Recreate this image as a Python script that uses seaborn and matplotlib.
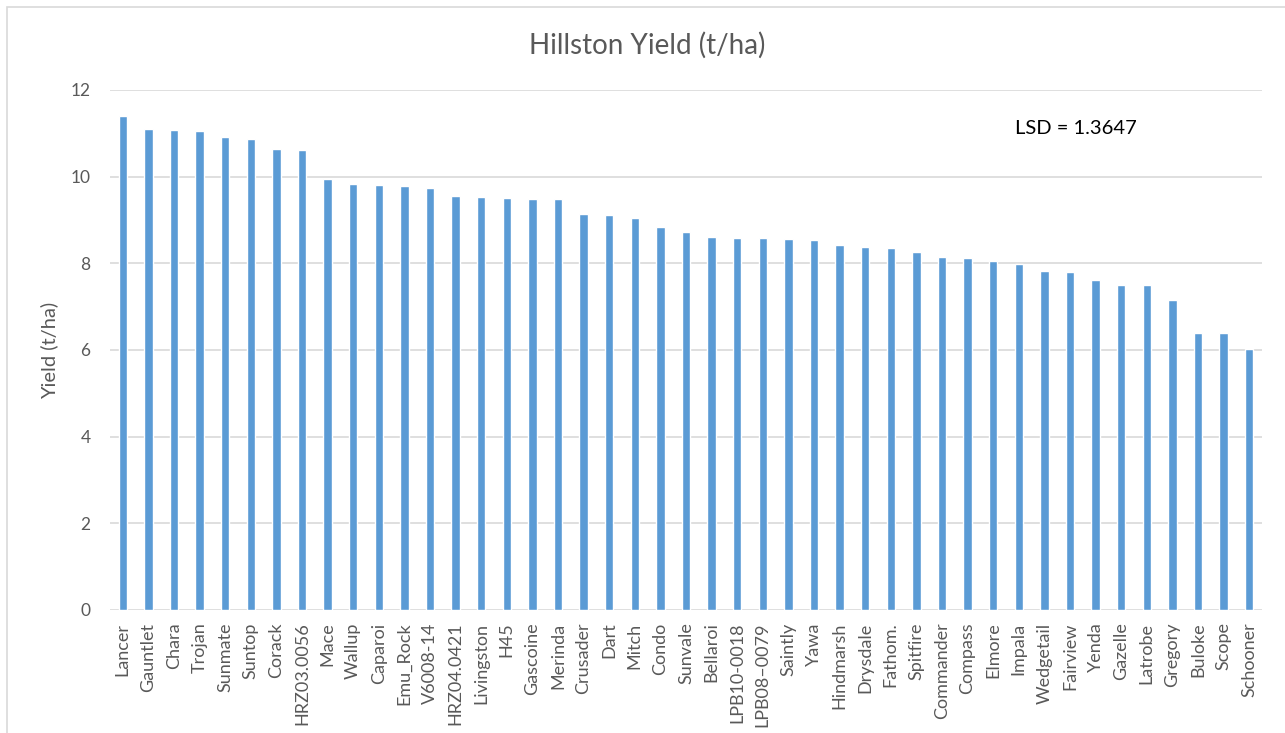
import matplotlib
matplotlib.use("Agg")
import matplotlib.pyplot as plt
import seaborn as sns
import pandas as pd
from matplotlib.patches import Rectangle

# --- data ---
varieties = ["Lancer", "Gauntlet", "Chara", "Trojan", "Sunmate", "Suntop", "Corack",
             "HRZ03.0056", "Mace", "Wallup", "Caparoi", "Emu_Rock", "V6008-14",
             "HRZ04.0421", "Livingston", "H45", "Gascoine", "Merinda", "Crusader",
             "Dart", "Mitch", "Condo", "Sunvale", "Bellaroi", "LPB10-0018",
             "LPB08\u20130079", "Saintly", "Yawa", "Hindmarsh", "Drysdale", "Fathom.",
             "Spitfire", "Commander", "Compass", "Elmore", "Impala", "Wedgetail",
             "Fairview", "Yenda", "Gazelle", "Latrobe", "Gregory", "Buloke", "Scope",
             "Schooner"]
yields = [11.40, 11.09, 11.07, 11.05, 10.92, 10.87, 10.64, 10.61, 9.95, 9.84, 9.80,
          9.79, 9.74, 9.55, 9.52, 9.50, 9.49, 9.48, 9.13, 9.12, 9.04, 8.85, 8.72,
          8.60, 8.59, 8.59, 8.57, 8.55, 8.42, 8.38, 8.36, 8.26, 8.14, 8.13, 8.06,
          7.99, 7.82, 7.79, 7.62, 7.51, 7.51, 7.15, 6.39, 6.39, 6.02]
yticks = [0, 2, 4, 6, 8, 10, 12]
lsd_text = "LSD = 1.3647"

df = pd.DataFrame({"variety": varieties, "yield": yields})

sns.set_style("white")
plt.rcParams["font.family"] = ["Lato", "DejaVu Sans"]

W, H = 1285, 733
fig = plt.figure(figsize=(W / 100, H / 100), dpi=100)
ax = fig.add_axes([110 / W, (H - 610) / H, (1262 - 110) / W, (610 - 90) / H])

sns.barplot(data=df, x="variety", y="yield", order=varieties, color="#5b9bd5",
            saturation=1, width=0.33, ax=ax, zorder=3)

ax.set_ylim(0, 12)
ax.set_xlim(-0.5, len(varieties) - 0.5)
ax.set_yticks(yticks)
ax.yaxis.grid(True, color="#d9d9d9", linewidth=1.2, zorder=0)
ax.set_axisbelow(True)
for s in ax.spines.values():
    s.set_visible(False)

ax.tick_params(axis="y", length=0, pad=14, labelsize=12.5, labelcolor="#595959")
ax.tick_params(axis="x", length=0, pad=9, labelsize=13, labelcolor="#595959",
               rotation=90)
ax.set_xlabel("")
ax.set_ylabel("Yield (t/ha)", fontsize=14.5, color="#595959")
ax.yaxis.set_label_coords(-(110 - 58) / (1262 - 110), 0.5)

fig.text(647 / W, 1 - 45 / H, "Hillston Yield (t/ha)", ha="center", va="center",
         fontsize=20, color="#595959")
fig.text(1015 / W, 1 - 128 / H, lsd_text, ha="left", va="center",
         fontsize=14.5, color="black")

# chart border
fig.add_artist(Rectangle((7 / W, -0.05), 1.05, 1.05 - 7 / H, transform=fig.transFigure,
                         fill=False, edgecolor="#d9d9d9", linewidth=1.2))

fig.savefig("out.png", dpi=100, facecolor="white")
